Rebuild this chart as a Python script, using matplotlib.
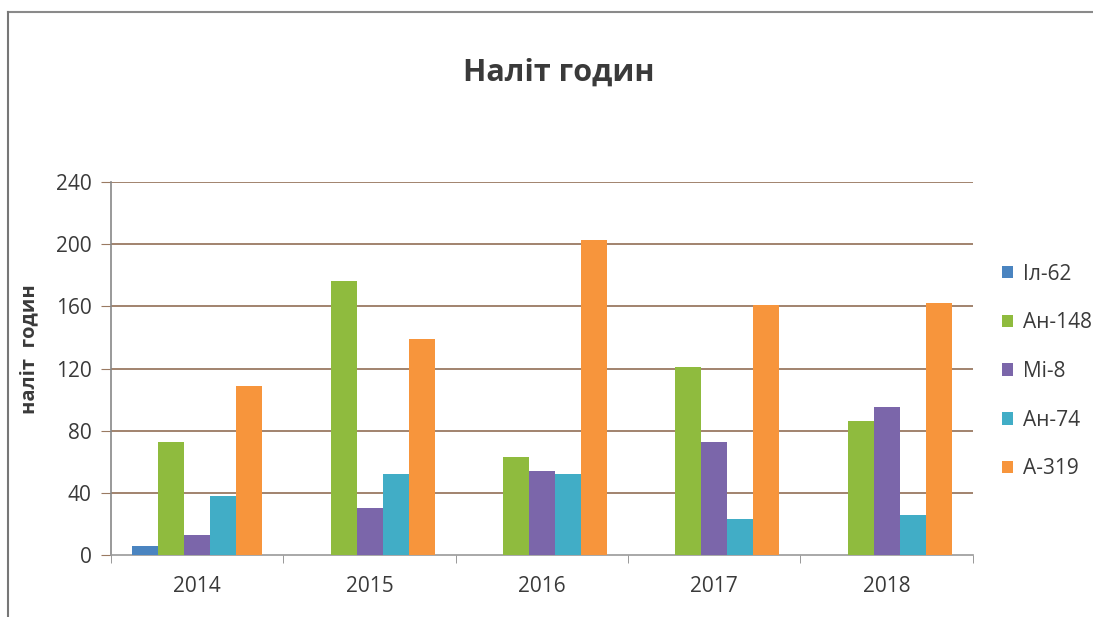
import numpy as np
import matplotlib.pyplot as plt
from matplotlib.lines import Line2D

plt.rcParams['font.family'] = ['Open Sans', 'DejaVu Sans']

years = ['2014', '2015', '2016', '2017', '2018']
series = ['Іл-62', 'Ан-148', 'Мі-8', 'Ан-74', 'А-319']
il62 = [6, 0, 0, 0, 0]
an148 = [73, 176, 63, 121, 86]
mi8 = [13, 30, 54, 73, 95]
an74 = [38, 52, 52, 23, 26]
a319 = [109, 139, 203, 161, 162]
values = [il62, an148, mi8, an74, a319]
colors = ['#4a84c0', '#8fbb3e', '#7b66aa', '#41adc6', '#f7953c']

text_col = '#3a3a3a'
grid_col = '#9a7a62'

fig = plt.figure(figsize=(10.93, 6.17), dpi=100)
ax = fig.add_axes([0.1016, 0.1005, 0.7884, 0.6045])

x = np.arange(len(years))
w = 0.151
for i, (name, vals, c) in enumerate(zip(series, values, colors)):
    ax.bar(x + (i - 2) * w, vals, width=w, color=c, label=name, zorder=3)

ax.set_xlim(-0.5, 4.5)
ax.set_ylim(0, 240)
ax.set_yticks(np.arange(0, 241, 40))
ax.set_xticks(x)
ax.set_xticklabels(years)
ax.set_xticks(np.arange(-0.5, 4.6, 1), minor=True)
ax.tick_params(axis='x', which='major', length=0, pad=15, labelsize=15, labelcolor=text_col)
ax.tick_params(axis='x', which='minor', length=6, color='#888888', direction='out')
ax.tick_params(axis='y', length=7, color=grid_col, labelsize=15, labelcolor=text_col, pad=7)

for yv in np.arange(40, 241, 40):
    ax.axhline(yv, color=grid_col, lw=1.3, zorder=1)

for s in ['top', 'right']:
    ax.spines[s].set_visible(False)
ax.spines['left'].set_color('#888888')
ax.spines['bottom'].set_color('#999999')
ax.spines['left'].set_linewidth(1.2)
ax.spines['bottom'].set_linewidth(1.2)

ax.set_ylabel('наліт  годин', fontsize=14.5, fontweight='bold', color=text_col)
ax.yaxis.set_label_coords(-0.083, 0.552)
fig.text(0.511, 0.883, 'Наліт годин', ha='center', va='center', fontsize=22,
         fontweight='bold', color=text_col)

ax.legend(loc='center left', bbox_to_anchor=(1.012, 0.492), frameon=False,
          fontsize=15, handlelength=0.55, handleheight=0.55, handletextpad=0.45,
          labelspacing=1.33, labelcolor=text_col)

# scan border
fig.add_artist(Line2D([8 / 1093, 1], [1 - 12 / 617, 1 - 12 / 617], transform=fig.transFigure,
                      color='#8a8a8a', lw=1.5))
fig.add_artist(Line2D([8 / 1093, 8 / 1093], [0, 1 - 12 / 617], transform=fig.transFigure,
                      color='#777777', lw=1.5))

fig.savefig('out.png', dpi=100)
